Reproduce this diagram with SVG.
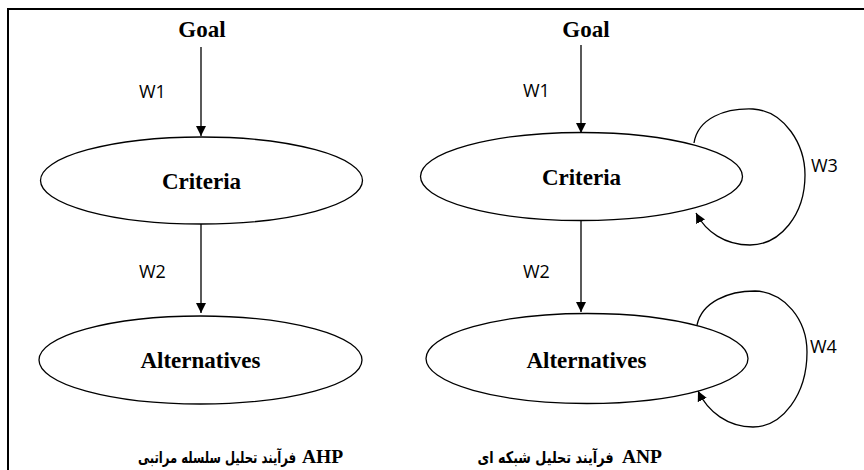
<svg xmlns="http://www.w3.org/2000/svg" width="864" height="470" viewBox="0 0 864 470">
<style>
.t{font-family:"Liberation Serif","DejaVu Serif",serif;font-weight:bold;font-size:23px;text-anchor:middle;fill:#000}
.w{font-family:"Open Sans","Liberation Sans",sans-serif;font-size:18px;fill:#000}
.n{fill:#fff;stroke:#000;stroke-width:1.3}
.c{fill:none;stroke:#000;stroke-width:1.3}
.lat{font-family:"Liberation Serif","DejaVu Serif",serif;font-weight:bold;font-size:19.5px;text-anchor:middle;fill:#000}
.fa{font-family:"DejaVu Sans",sans-serif;font-weight:bold;font-size:16px;text-anchor:middle;fill:#000}
</style>
<defs>
<marker id="ah" viewBox="0 0 10 10" refX="10" refY="5" markerWidth="10" markerHeight="10" markerUnits="userSpaceOnUse" orient="auto">
<path d="M0,0 L10,5 L0,10 z" fill="#000"/>
</marker>
</defs>
<rect width="864" height="470" fill="#fff"/>
<g id="frame" fill="none" stroke="#000" stroke-width="2">
<path d="M8,470 V9 H864"/>
</g>
<g id="connectors">
<line class="c" x1="201" y1="47" x2="201" y2="136" marker-end="url(#ah)"/>
<line class="c" x1="201" y1="224" x2="201" y2="313" marker-end="url(#ah)"/>
<line class="c" x1="581" y1="45" x2="581" y2="133" marker-end="url(#ah)"/>
<line class="c" x1="581" y1="221" x2="581" y2="312" marker-end="url(#ah)"/>
<path class="c" d="M694,143 C698,118 725,108 753,109 C785,111 805,145 805,175 C805,215 780,245 750,245 C725,245 706,232 696,213" marker-end="url(#ah)"/>
<path class="c" d="M697,325 C702,302 728,291 755,291 C785,292 807,320 807,352 C807,395 782,427 753,427 C728,427 708,412 698,391" marker-end="url(#ah)"/>
<text class="w" x="139" y="98">W1</text>
<text class="w" x="139" y="278">W2</text>
<text class="w" x="523" y="97">W1</text>
<text class="w" x="523" y="278">W2</text>
<text class="w" x="811" y="172">W3</text>
<text class="w" x="810" y="353">W4</text>
</g>
<g id="ahp-goal"><text class="t" x="202" y="37">Goal</text></g>
<g id="ahp-criteria"><ellipse class="n" cx="201.5" cy="180.5" rx="161" ry="43.5"/><text class="t" x="201.5" y="189">Criteria</text></g>
<g id="ahp-alternatives"><ellipse class="n" cx="200.5" cy="360" rx="161.5" ry="44"/><text class="t" x="200.5" y="368">Alternatives</text></g>
<g id="anp-goal"><text class="t" x="586" y="37">Goal</text></g>
<g id="anp-criteria"><ellipse class="n" cx="581.5" cy="176.5" rx="161" ry="44"/><text class="t" x="581.5" y="185">Criteria</text></g>
<g id="anp-alternatives"><ellipse class="n" cx="587" cy="358.5" rx="161" ry="45"/><text class="t" x="586.5" y="368">Alternatives</text></g>
<g id="ahp-caption">
<text class="fa" x="217" y="463" direction="rtl" textLength="158" lengthAdjust="spacingAndGlyphs">فرآیند تحلیل سلسله مراتبی</text>
<text class="lat" x="322.5" y="463">AHP</text>
</g>
<g id="anp-caption">
<text class="fa" x="545.5" y="463" direction="rtl" textLength="136" lengthAdjust="spacingAndGlyphs">فرآیند تحلیل شبکه ای</text>
<text class="lat" x="642" y="463">ANP</text>
</g>
</svg>
